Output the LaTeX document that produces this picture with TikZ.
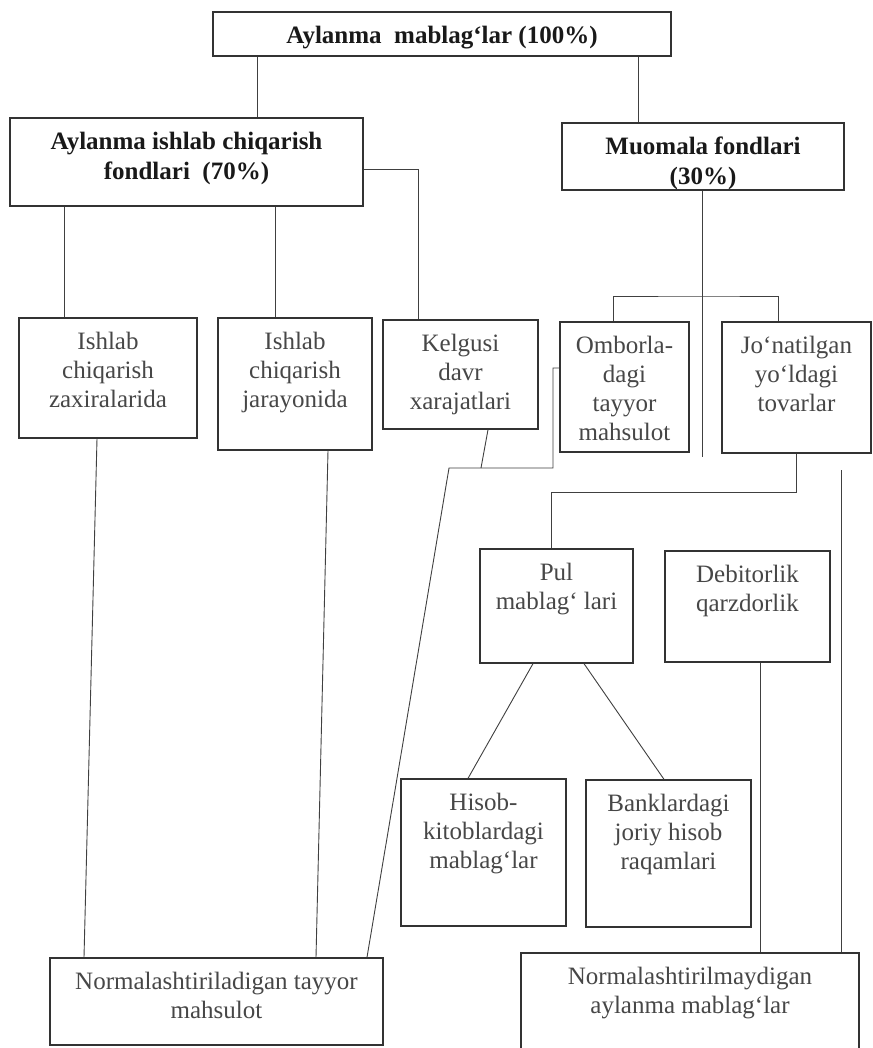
\documentclass[tikz,border=0pt]{standalone}
\usepackage{fontspec}
\setmainfont{Liberation Serif}
\newcommand{\cellbox}[3]{\parbox[c][#2pt][t]{#1pt}{\centering\vspace*{14pt}#3}}

\begin{document}
\begin{tikzpicture}[x=1pt, y=-1pt,
  cell/.style={draw=black!80, line width=1.3pt, inner sep=0pt, text=black!72,
    font=\fontsize{25}{29}\selectfont},
  headcell/.style={cell, text=black!90, font=\fontsize{25}{30}\selectfont\bfseries},
  link/.style={draw=black!75, line width=0.9pt}]
\useasboundingbox (0,0) rectangle (872,1048);
\clip (0,0) rectangle (872,1048);
\fill[white] (0,0) rectangle (872,1048);

% Upper levels
\node[headcell] (total) at (442,34) {\cellbox{458}{44}{Aylanma\ \ mablag‘lar (100\%)}};
\node[headcell] (prod) at (186.5,162) {\cellbox{353}{88}{Aylanma ishlab chiqarish\\fondlari\ \ (70\%)}};
\node[headcell] (circ) at (703,156.5) {\cellbox{282}{67}{Muomala fondlari\\(30\%)}};

% Middle row
\node[cell] (stock) at (108,378) {\cellbox{178}{120}{Ishlab\\chiqarish\\zaxiralarida}};
\node[cell] (inproc) at (295,384) {\cellbox{154}{132}{Ishlab\\chiqarish\\jarayonida}};
\node[cell] (future) at (460.5,374.5) {\cellbox{155}{109}{Kelgusi\\davr\\xarajatlari}};
\node[cell] (store) at (624.5,387) {\cellbox{129}{130}{Omborla-\\dagi\\tayyor\\mahsulot}};
\node[cell] (transit) at (796.5,387.5) {\cellbox{149}{131}{Jo‘natilgan\\yo‘ldagi\\tovarlar}};

% Money and debts
\node[cell] (cash) at (556.5,606) {\cellbox{153}{114}{Pul\\mablag‘ lari}};
\node[cell] (debt) at (747.5,606.5) {\cellbox{165}{111}{Debitorlik\\qarzdorlik}};
\node[cell] (till) at (483.5,852.5) {\cellbox{165}{147}{Hisob-\\kitoblardagi\\mablag‘lar}};
\node[cell] (bank) at (668.5,853.5) {\cellbox{165}{147}{Banklardagi\\joriy hisob\\raqamlari}};

% Bottom groups
\node[cell] (normed) at (216.5,1001.5) {\cellbox{333}{87}{Normalashtiriladigan tayyor\\mahsulot}};
\node[cell] (unnormed) at (690,1006.5) {\cellbox{338}{107}{Normalashtirilmaydigan\\aylanma mablag‘lar}};

% Links, top part
\draw[link] ([xshift=-185pt]total.south) -- ([xshift=-185pt]total.south |- prod.north);
\draw[link] ([xshift=196pt]total.south) -- ([xshift=196pt]total.south |- circ.north);
\draw[link] ([yshift=-7pt]prod.east) -| ([xshift=-42.5pt]future.north);
\draw[link] ([xshift=-122.5pt]prod.south) -- ([xshift=-122.5pt]prod.south |- stock.north);
\draw[link] ([xshift=88.5pt]prod.south) -- ([xshift=88.5pt]prod.south |- inproc.north);
\coordinate (circend) at (702,457);
\coordinate (fork) at (702,296);
\draw[link] ([xshift=-1pt]circ.south) -- (circend);
\draw[link] ([xshift=-11.5pt]store.north) |- (fork) -| ([xshift=-18.5pt]transit.north);

% Links, lower part
\draw[link] ([xshift=-11pt]stock.south) -- ([xshift=-132.5pt]normed.north);
\draw[link] ([xshift=33pt]inproc.south) -- ([xshift=99.5pt]normed.north);
\coordinate (knee) at (449,468);
\coordinate (storeknee) at (553,468);
\draw[link] ([yshift=19pt]store.west) -| (storeknee) -- (knee) -- ([xshift=150.5pt]normed.north);
\draw[link] ([xshift=27.5pt]future.south) -- ([xshift=20.5pt]future.south |- knee);
\draw[link] (transit.south) -- ++(0,39) -| ([xshift=-5pt]cash.north);
\draw[link] ([xshift=-23.5pt]cash.south) -- ([xshift=-15.5pt]till.north);
\draw[link] ([xshift=27.5pt]cash.south) -- ([xshift=-4.5pt]bank.north);
\draw[link] ([xshift=13pt]debt.south) -- ([xshift=13pt]debt.south |- unnormed.north);
\coordinate (sideend) at (841,470);
\draw[link] (sideend) -- (sideend |- unnormed.north);
\end{tikzpicture}
\end{document}
